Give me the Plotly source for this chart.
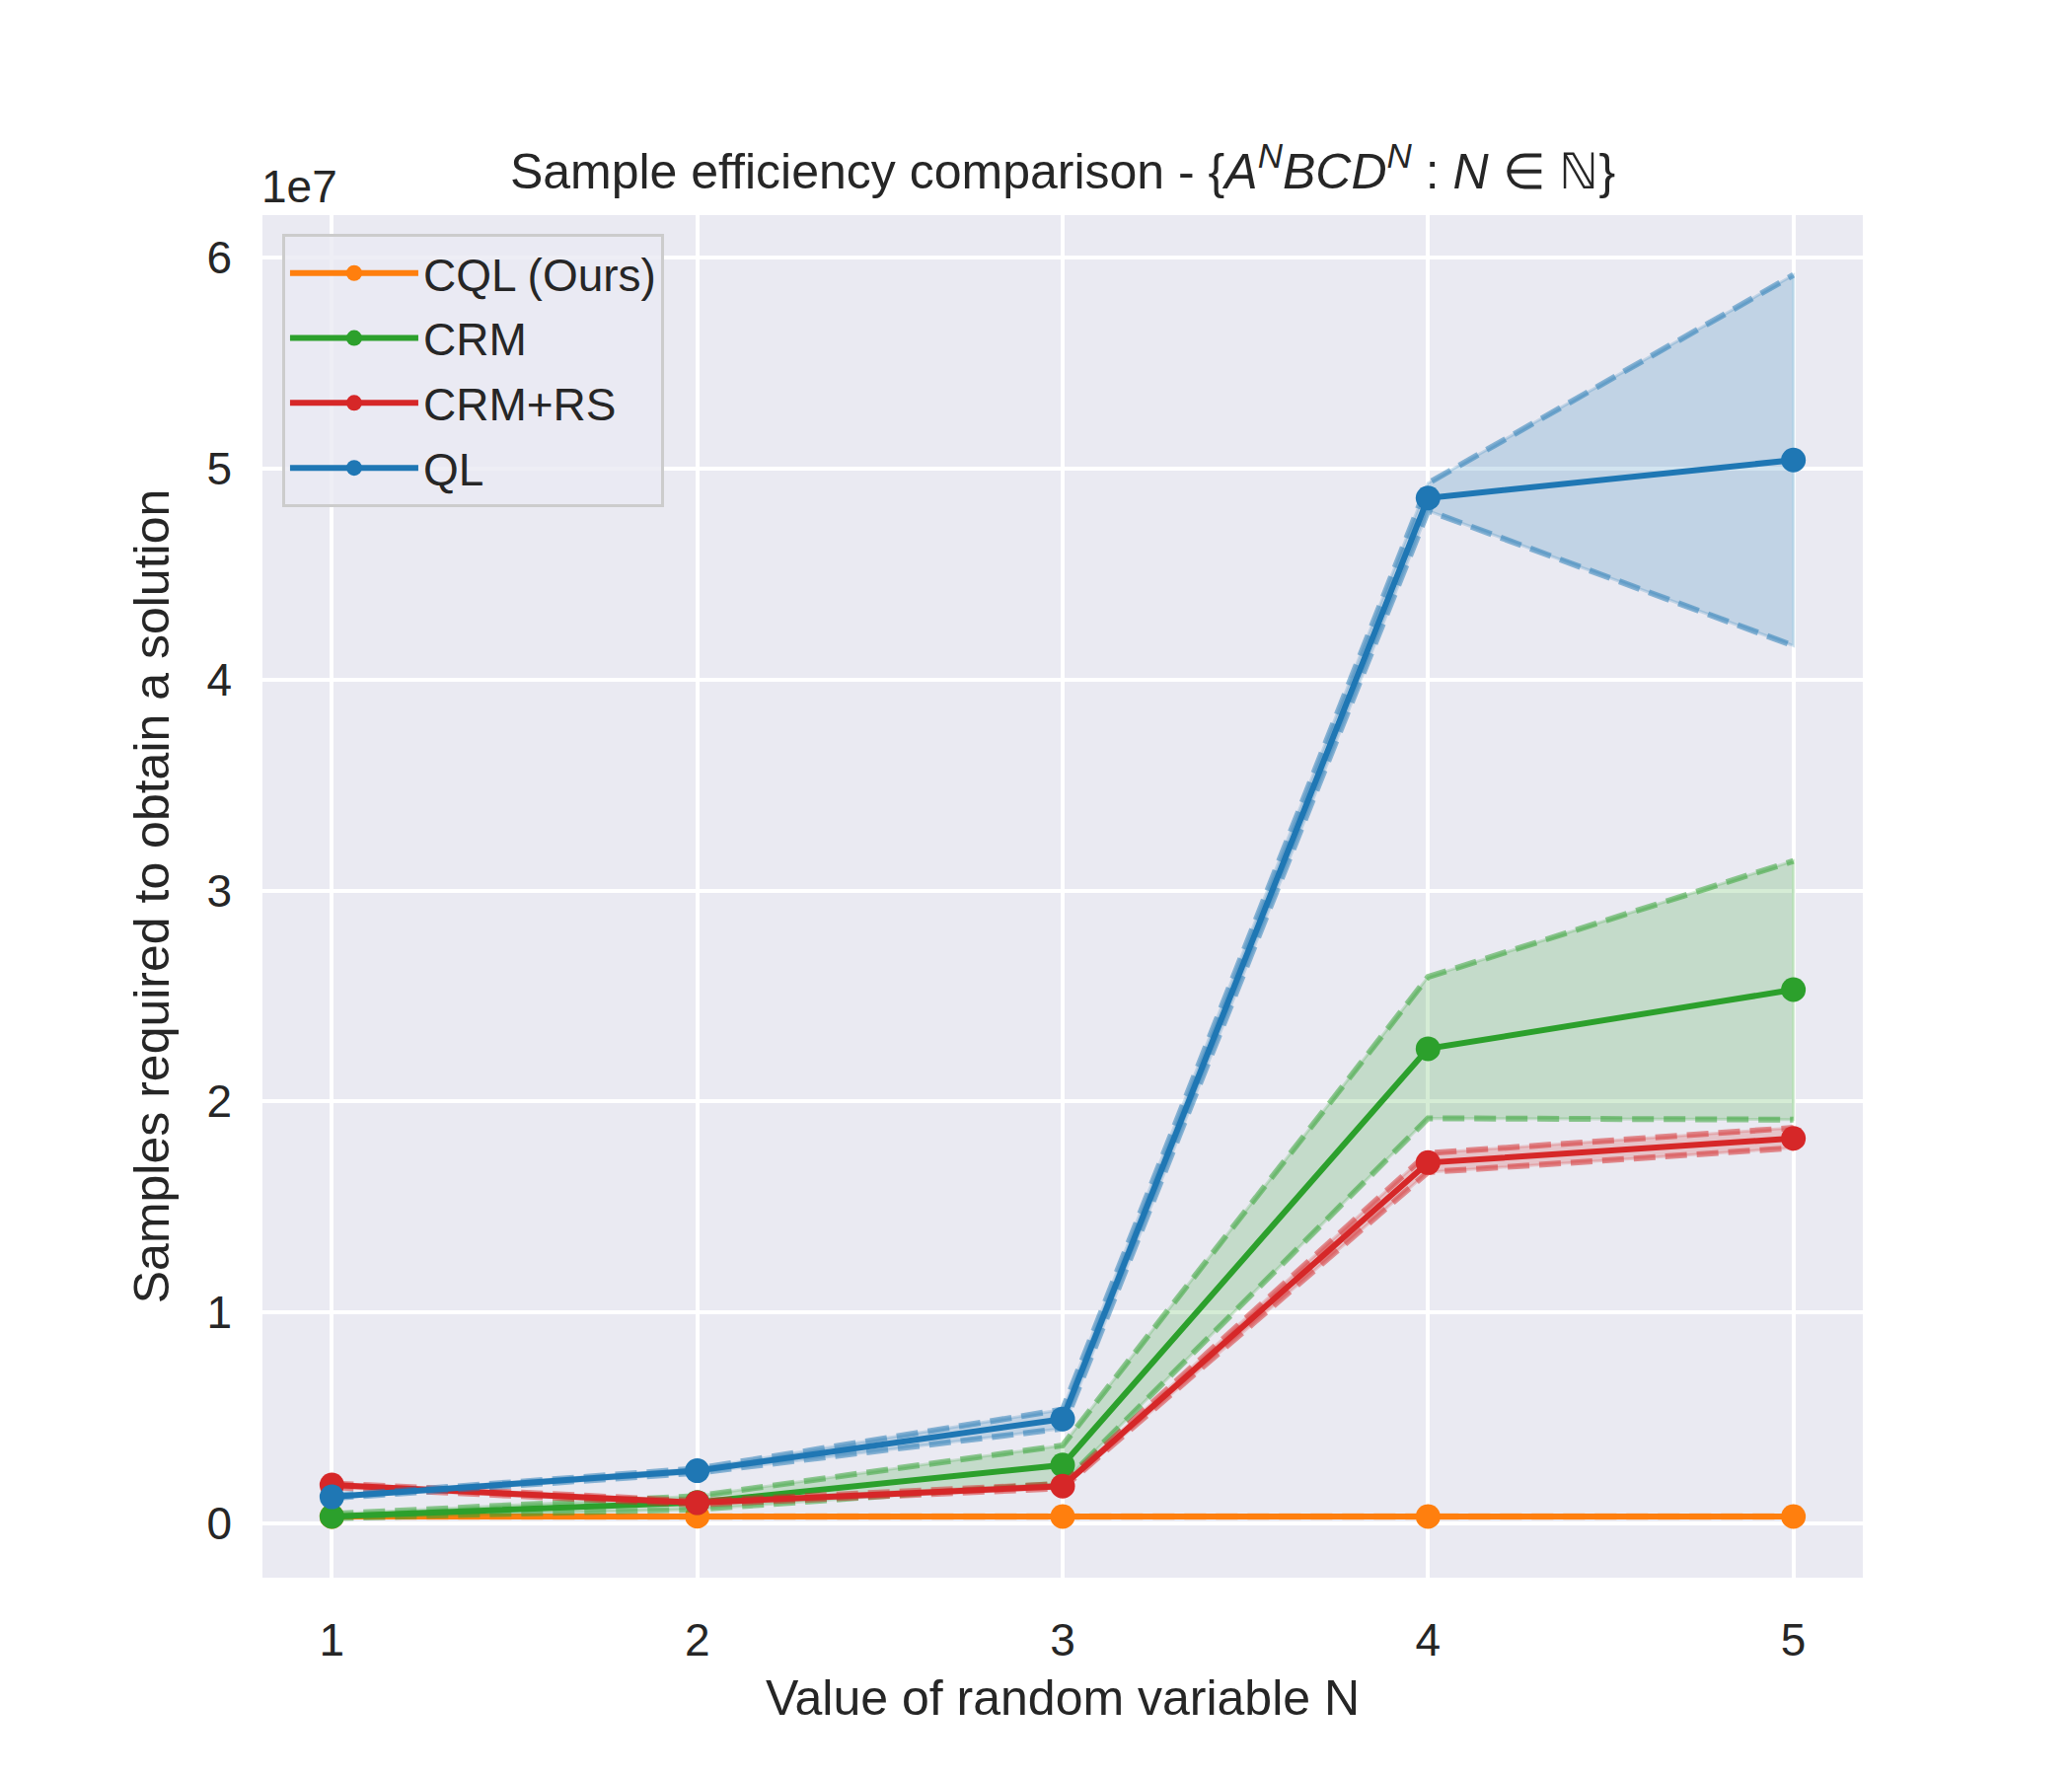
import plotly.graph_objects as go

# values, in samples (axis shows them in units of 1e7)
n_values = [1, 2, 3, 4, 5]

cql_mean = [3.3e5, 3.4e5, 3.3e5, 3.3e5, 3.3e5]
cql_lo = [3.2e5, 3.3e5, 3.2e5, 3.2e5, 3.2e5]
cql_hi = [3.4e5, 3.5e5, 3.4e5, 3.4e5, 3.4e5]

crm_mean = [0.33e6, 1.0e6, 2.77e6, 22.5e6, 25.3e6]
crm_lo = [0.25e6, 0.67e6, 1.9e6, 19.2e6, 19.14e6]
crm_hi = [0.45e6, 1.3e6, 3.7e6, 25.9e6, 31.4e6]

rs_mean = [1.82e6, 0.98e6, 1.77e6, 17.1e6, 18.25e6]
rs_lo = [1.72e6, 0.90e6, 1.67e6, 16.65e6, 17.8e6]
rs_hi = [1.90e6, 1.06e6, 1.87e6, 17.55e6, 18.75e6]

ql_mean = [1.26e6, 2.5e6, 4.95e6, 48.6e6, 50.4e6]
ql_lo = [1.2e6, 2.4e6, 4.5e6, 48.0e6, 41.6e6]
ql_hi = [1.32e6, 2.6e6, 5.4e6, 49.3e6, 59.17e6]

y_ticks = [0, 1e7, 2e7, 3e7, 4e7, 5e7, 6e7]
y_tick_text = ["0", "1", "2", "3", "4", "5", "6"]

series = [
    ("CQL (Ours)", (255, 127, 14), cql_mean, cql_lo, cql_hi),
    ("CRM", (44, 160, 44), crm_mean, crm_lo, crm_hi),
    ("CRM+RS", (214, 39, 40), rs_mean, rs_lo, rs_hi),
    ("QL", (31, 119, 180), ql_mean, ql_lo, ql_hi),
]

FONT = "Liberation Sans, Arial, sans-serif"
TEXT = "#262626"


def rgba(c, a):
    return f"rgba({c[0]},{c[1]},{c[2]},{a})"


fig = go.Figure()
for name, col, mean, lo, hi in series:
    # shaded band between min and max
    fig.add_trace(go.Scatter(
        x=n_values + n_values[::-1], y=hi + lo[::-1],
        fill="toself", fillcolor=rgba(col, 0.2),
        line=dict(color=rgba(col, 0.2), width=3),
        mode="lines", showlegend=False, hoverinfo="skip", legendgroup=name))
    for edge in (lo, hi):
        fig.add_trace(go.Scatter(
            x=n_values, y=edge, mode="lines",
            line=dict(color=rgba(col, 0.5), width=6, dash="22px,10px"),
            showlegend=False, hoverinfo="skip", legendgroup=name))
    fig.add_trace(go.Scatter(
        x=n_values, y=mean, mode="lines+markers", name=name,
        line=dict(color=rgba(col, 1), width=6),
        marker=dict(size=25, color=rgba(col, 1)),
        legendgroup=name))

title = ("Sample efficiency comparison - {<i>A</i><sup><i>N</i></sup>"
         "<i>BCD</i><sup><i>N</i></sup> : <i>N</i> ∈ ℕ}")

fig.update_layout(
    width=2100, height=1800,
    margin=dict(l=258, r=220, t=210, b=209, autoexpand=False),
    paper_bgcolor="white", plot_bgcolor="#EAEAF2",
    font=dict(family=FONT, color=TEXT, size=46),
    title=dict(text=title, x=0.5, xref="paper", y=0.8986,
               yref="container", yanchor="bottom", xanchor="center",
               font=dict(size=50, color=TEXT)),
    legend=dict(x=0.0123, y=0.986, xanchor="left", yanchor="top",
                bgcolor="rgba(234,234,242,0.8)", bordercolor="#cccccc",
                borderwidth=3, font=dict(size=46, color=TEXT),
                tracegroupgap=3, itemwidth=130),
    showlegend=True,
)
fig.update_xaxes(
    range=[0.81, 5.19], tickvals=n_values, ticktext=[str(v) for v in n_values],
    showgrid=True, gridcolor="white", gridwidth=4, zeroline=False,
    showline=False, ticks="", ticklabelstandoff=32,
    tickfont=dict(size=46, color=TEXT),
    title=dict(text="Value of random variable N", font=dict(size=50, color=TEXT),
               standoff=15))
fig.update_yaxes(
    range=[-0.257e7, 6.201e7], tickvals=y_ticks, ticktext=y_tick_text,
    showgrid=True, gridcolor="white", gridwidth=4, zeroline=False,
    showline=False, ticks="", ticklabelstandoff=30,
    tickfont=dict(size=46, color=TEXT),
    title=dict(text="Samples required to obtain a solution",
               font=dict(size=50, color=TEXT), standoff=21))

fig.add_annotation(text="1e7", xref="paper", yref="paper", x=0, y=1,
                   xanchor="left", yanchor="bottom", yshift=1, xshift=-3,
                   showarrow=False, font=dict(size=46, color=TEXT))

fig.write_html("out.html")
